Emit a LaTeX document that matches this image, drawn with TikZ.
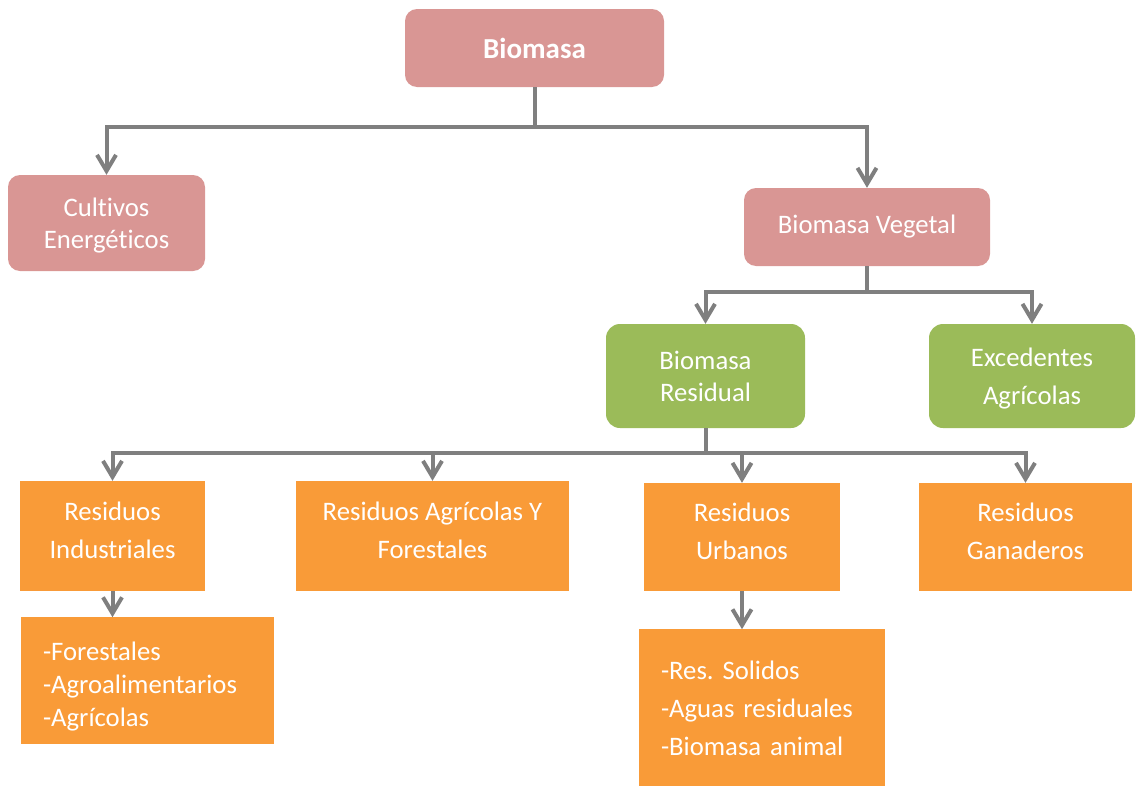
\documentclass[tikz,border=0pt]{standalone}
\usepackage{fontspec}
\setmainfont{Carlito}[Ligatures=NoCommon]
\usetikzlibrary{arrows.meta, positioning}
\frenchspacing

\definecolor{rosy}{HTML}{D99694}
\definecolor{leafgreen}{HTML}{9BBB59}
\definecolor{tangerine}{HTML}{F99B38}
\definecolor{linkgray}{HTML}{7F7F7F}

\begin{document}
\begin{tikzpicture}[
    x=1pt, y=-1pt,
    >={Straight Barb[length=16pt, width=19pt]},
    box/.style={rectangle, align=center, text=white, inner sep=0pt, font=\fontsize{26.7}{32}\selectfont},
    loose/.style={font=\fontsize{26.7}{38}\selectfont},
    raised/.style={text depth=12pt},
    sunk/.style={text depth=-4pt},
    lowered/.style={text height=30pt},
    pinkbox/.style={box, rounded corners=12pt, fill=rosy},
    greenbox/.style={box, rounded corners=14pt, fill=leafgreen},
    orangebox/.style={box, fill=tangerine},
    listbox/.style={orangebox, align=left, inner xsep=22pt},
    link/.style={draw=linkgray, line width=4pt}
]
\useasboundingbox (0,0) rectangle (1136,787);

% Top levels
\node[pinkbox, minimum width=259pt, minimum height=78pt, font=\bfseries\fontsize{29}{32}\selectfont] (bio) at (534.5,48) {Biomasa};
\node[pinkbox, sunk, minimum width=197pt, minimum height=96pt] (cult) at (106.5,223) {Cultivos\\Energéticos};
\node[pinkbox, minimum width=246pt, minimum height=78pt] (veg) at (867,227) {Biomasa Vegetal};

% Vegetal branches
\node[greenbox, minimum width=199pt, minimum height=104pt] (resid) at (705.5,376) {Biomasa\\Residual};
\node[greenbox, loose, sunk, minimum width=206pt, minimum height=104pt] (exced) at (1032,376) {Excedentes\\Agrícolas};

% Residue types
\node[orangebox, loose, raised, minimum width=185pt, minimum height=110pt] (indus) at (112.5,536) {Residuos\\Industriales};
\node[orangebox, loose, raised, minimum width=273pt, minimum height=110pt] (agrif) at (432.5,536) {Residuos Agrícolas Y\\Forestales};
\node[orangebox, loose, raised, minimum width=196pt, minimum height=108pt] (urban) at (742,537) {Residuos\\Urbanos};
\node[orangebox, loose, raised, minimum width=213pt, minimum height=108pt] (ganad) at (1025.5,537) {Residuos\\Ganaderos};

% Detail lists
\node[listbox, lowered, below=26pt of indus.south west, anchor=north west, xshift=1pt, text width=209pt, minimum height=127pt, font=\fontsize{26.7}{33}\selectfont] (indlist) {-Forestales\\-Agroalimentarios\\-Agrícolas};
\node[listbox, loose, below=38pt of urban.south west, anchor=north west, xshift=-5pt, text width=202pt, minimum height=157pt] (urblist) {-Res. Solidos\\-Aguas residuales\\-Biomasa animal};

% Connectors
\draw[link] (bio.south) -- ++(0,40) coordinate (split1);
\draw[link, ->] (split1) -| (cult.north);
\draw[link, ->] (split1) -| (veg.north);

\draw[link] (veg.south) -- ++(0,26) coordinate (split2);
\draw[link, ->] (split2) -| (resid.north);
\draw[link, ->] (split2) -| (exced.north);

\draw[link] (resid.south) -- ++(0,25) coordinate (split3);
\draw[link, ->] (split3) -| (indus.north);
\draw[link, ->] (split3) -| (agrif.north);
\draw[link, ->] (split3) -| (urban.north);
\draw[link, ->] (split3) -| (ganad.north);

\draw[link, ->] (indus.south) -- (indus.south |- indlist.north);
\draw[link, ->] (urban.south) -- (urban.south |- urblist.north);

\end{tikzpicture}
\end{document}
